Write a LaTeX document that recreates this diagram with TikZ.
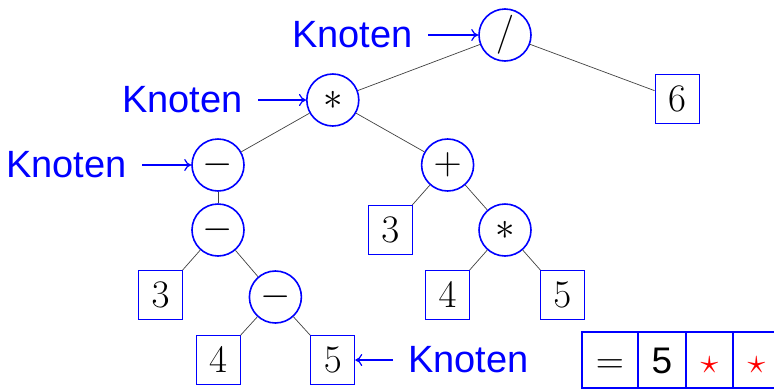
\RequirePackage{fix-cm}
\documentclass[tikz,border=0pt]{standalone}
\usepackage{fontspec}
\usetikzlibrary{arrows.meta}
\newfontfamily\hv{Liberation Sans}
\begin{document}
\begin{tikzpicture}[x=1pt,y=-1pt,
  op/.style={circle,draw=blue,line width=1.6pt,minimum size=52pt,inner sep=0pt,font=\fontsize{39}{39}\selectfont},
  leaf/.style={rectangle,draw=blue,line width=0.9pt,minimum width=44pt,minimum height=49pt,inner sep=0pt,font=\fontsize{39}{39}\selectfont},
  edge/.style={draw=black!75,line width=0.7pt},
  knoten/.style={text=blue,font=\hv\fontsize{38}{38}\selectfont,inner sep=0pt},
  kar/.style={-{To[length=7pt,width=12pt]},draw=blue,line width=1.2pt,shorten <=15pt},
  cell/.style={rectangle,draw=blue,line width=1.8pt,minimum height=56pt,inner sep=0pt,text height=26pt,text depth=0pt},
]
\useasboundingbox (0,0) rectangle (774,389);
\clip (0,0) rectangle (774,389);
% tree nodes
\node[op] (slash) at (505,35) {$/$};
\node[op] (m1) at (332.8,100) {$\ast$};
\node[leaf] (n6) at (677,99) {$6$};
\node[op] (s1) at (218,165) {$-$};
\node[op] (plus) at (447.6,165) {$+$};
\node[op] (s2) at (218,230) {$-$};
\node[leaf] (n3b) at (390.2,230) {$3$};
\node[op] (m2) at (505,230) {$\ast$};
\node[leaf] (n3a) at (160.6,295) {$3$};
\node[op] (s3) at (275.4,297) {$-$};
\node[leaf] (n4b) at (447.6,295) {$4$};
\node[leaf] (n5b) at (562.4,295) {$5$};
\node[leaf] (n4a) at (218,360) {$4$};
\node[leaf] (n5a) at (332.8,360) {$5$};
% edges
\draw[edge] (slash) -- (m1);
\draw[edge] (slash) -- (n6);
\draw[edge] (m1) -- (s1);
\draw[edge] (m1) -- (plus);
\draw[edge] (s1) -- (s2);
\draw[edge] (s2) -- (n3a);
\draw[edge] (s2) -- (s3);
\draw[edge] (s3) -- (n4a);
\draw[edge] (s3) -- (n5a);
\draw[edge] (plus) -- (n3b);
\draw[edge] (plus) -- (m2);
\draw[edge] (m2) -- (n4b);
\draw[edge] (m2) -- (n5b);
% Knoten labels
\node[knoten,anchor=east] (k1) at (413,35) {Knoten};
\node[knoten,anchor=east] (k2) at (243,100) {Knoten};
\node[knoten,anchor=east] (k3) at (127,165) {Knoten};
\node[knoten,anchor=west] (k4) at (408,360) {Knoten};
\draw[kar] (k1) -- (slash);
\draw[kar] (k2) -- (m1);
\draw[kar] (k3) -- (s1);
\draw[kar] (k4) -- (n5a);
% table
\node[cell,minimum width=56pt,font=\fontsize{39}{39}\selectfont] (c1) at (610,360) {$=$};
\node[cell,minimum width=48pt,font=\hv\fontsize{37}{37}\selectfont] (c2) at (662,360) {5};
\node[cell,minimum width=47pt,text=red,font=\fontsize{36}{36}\selectfont] (c3) at (709.5,360) {$\star$};
\node[cell,minimum width=47pt,text=red,font=\fontsize{36}{36}\selectfont] (c4) at (756.5,360) {$\star$};
\end{tikzpicture}
\end{document}
